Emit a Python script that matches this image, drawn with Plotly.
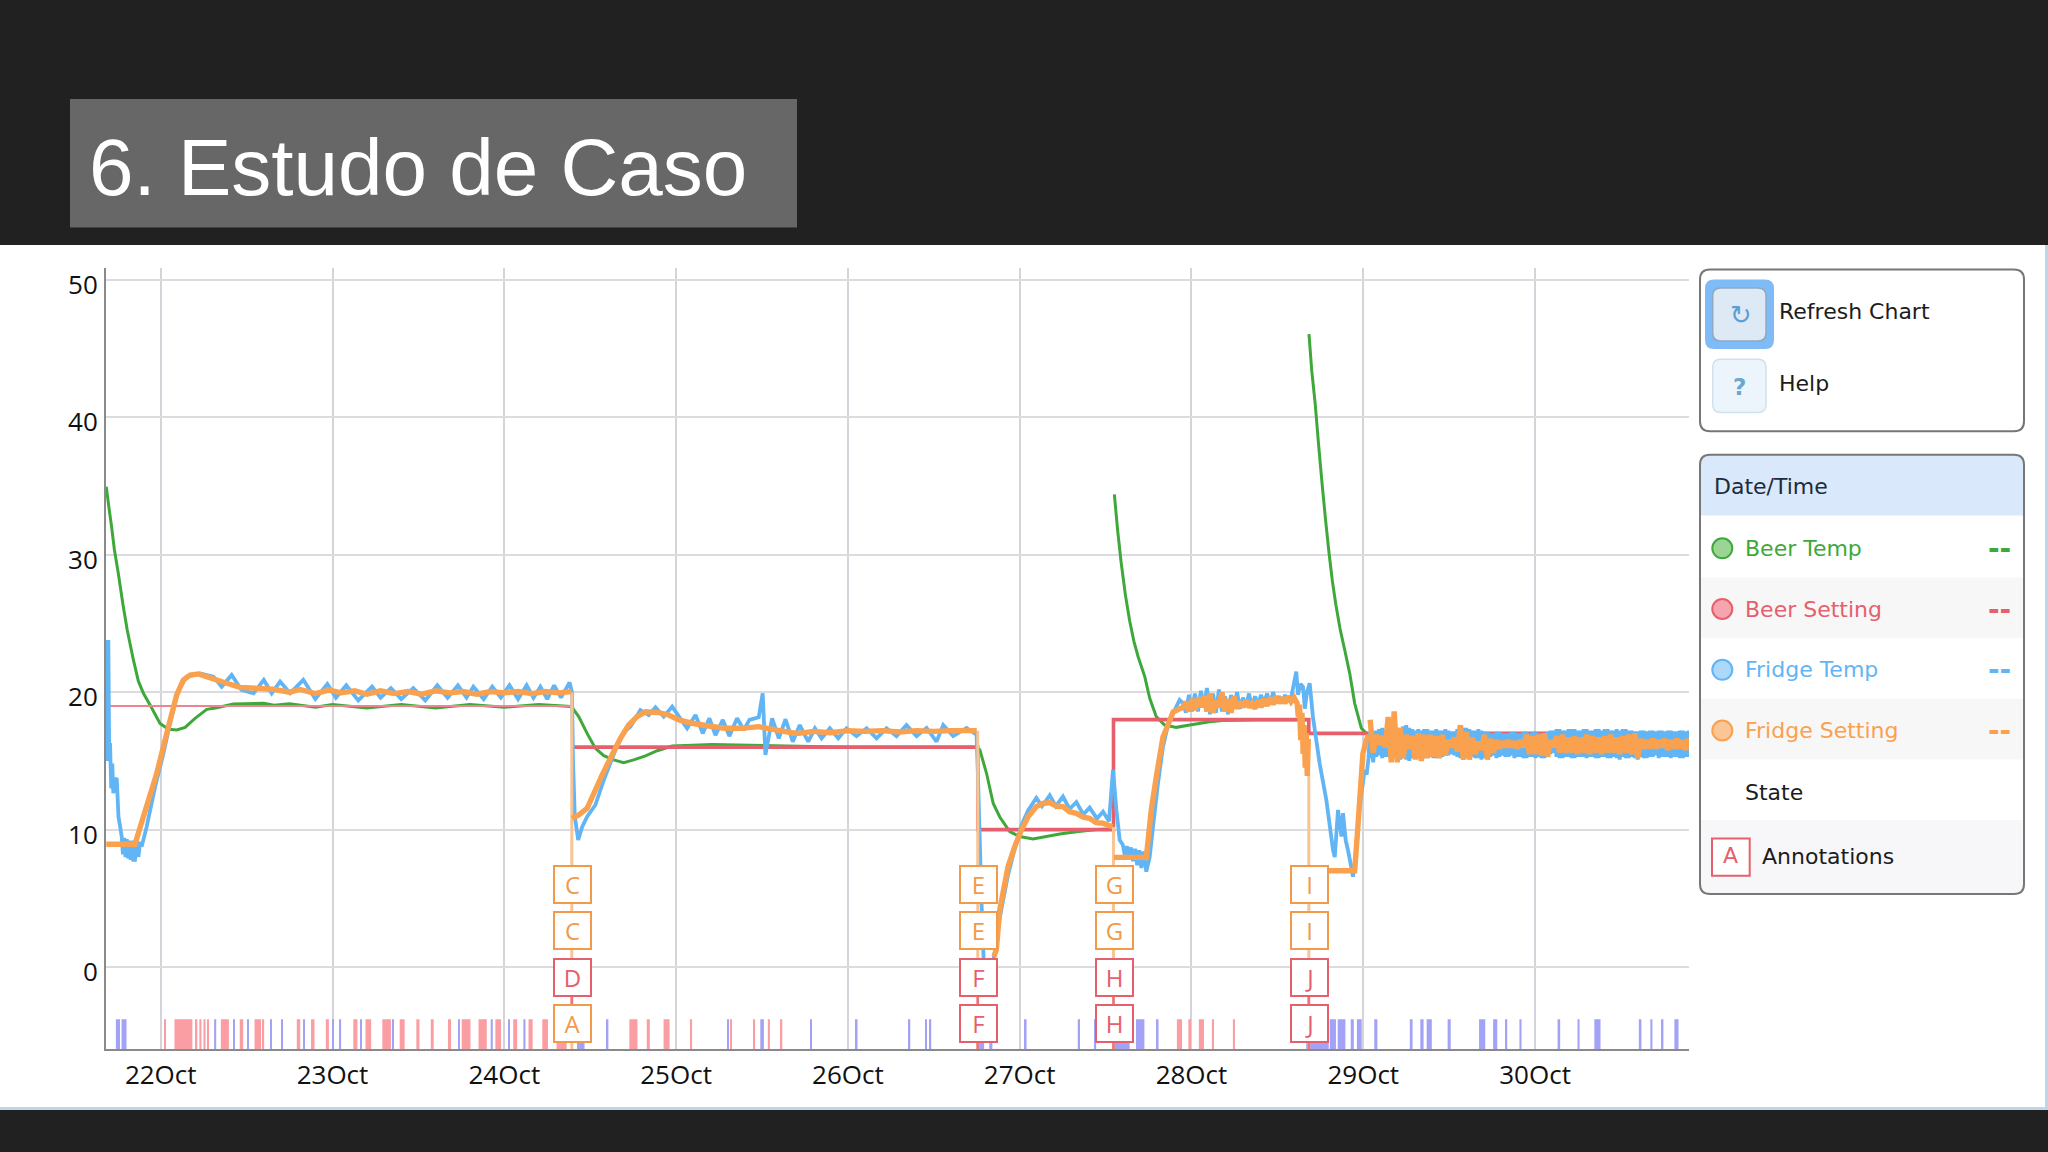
import pandas as pd
import plotly.graph_objects as go

# ---------- data (x in day-of-October, y in degrees) ----------
tick_days = [22, 23, 24, 25, 26, 27, 28, 29, 30]
tick_labels = ["22Oct", "23Oct", "24Oct", "25Oct", "26Oct", "27Oct", "28Oct", "29Oct", "30Oct"]
y_ticks = [0, 10, 20, 30, 40, 50]

beer_temp_days = [21.683, 21.70, 21.714, 21.73, 21.753, 21.78, 21.805, 21.84, 21.87, 21.90, 21.938, 21.996, 22.045, 22.093, 22.142, 22.2, 22.268, 22.326, 22.423,
                  22.6, 22.66, 22.75, 22.9, 23.0, 23.2, 23.4, 23.6, 23.8, 24.0, 24.2, 24.39, None,
                  24.391, 24.433, 24.482, 24.53, 24.579, 24.637, 24.695, 24.753, 24.822, 24.89, 24.977, 25.21, 26.0, 26.75,
                  26.768, 26.807, 26.846, 26.885, 26.942, 27.0, 27.078, 27.155, 27.233, 27.33, 27.45, 27.54, None,
                  27.551, 27.57, 27.59, 27.615, 27.64, 27.665, 27.689, 27.728, 27.757, 27.795, 27.844, 27.912, 27.99, 28.106, 28.18, 28.4, 28.675, None,
                  28.684, 28.70, 28.72, 28.74, 28.76, 28.78, 28.8, 28.82, 28.84, 28.865, 28.892, 28.921, 28.95, 28.989, 29.018, 29.06, 29.5, 30.0, 30.89]
beer_temp_vals = [34.96, 33.3, 32.05, 30.4, 28.65, 26.4, 24.53, 22.4, 20.8, 19.9, 19.07, 17.73, 17.3, 17.25, 17.44, 18.1, 18.75, 18.87, 19.14,
                  19.2, 19.05, 19.15, 18.9, 19.1, 18.85, 19.1, 18.85, 19.1, 18.9, 19.1, 18.95, None,
                  18.95, 18.22, 17.0, 15.92, 15.38, 15.07, 14.87, 15.07, 15.36, 15.74, 16.08, 16.2, 16.0, 16.0,
                  15.8, 14.1, 11.9, 10.9, 9.85, 9.49, 9.32, 9.49, 9.68, 9.85, 10.0, 10.05, None,
                  34.4, 31.8, 29.5, 27.1, 25.2, 23.7, 22.6, 21.13, 19.56, 18.22, 17.61, 17.44, 17.61, 17.85, 17.93, 18.0, 18.0, None,
                  46.05, 43.4, 41.0, 38.0, 35.2, 32.6, 30.2, 28.1, 26.4, 24.6, 23.07, 21.37, 19.19, 17.37, 17.0, 16.9, 17.0, 17.0, 17.0]

beer_setting_early_days = [21.683, 24.393]
beer_setting_early_vals = [19, 19]
beer_setting_days = [24.393, 26.756, 26.756, 27.546, 27.546, 28.683, 28.683, 30.89]
beer_setting_vals = [16, 16, 10, 10, 18, 18, 17, 17]

fridge_temp_days = [21.684, 21.69, 21.695, 21.7, 21.705, 21.712, 21.718, 21.724, 21.734, 21.744, 21.754, 21.764, 21.773, 21.78, 21.788,
                    21.795, 21.803, 21.81, 21.818, 21.825, 21.833, 21.84, 21.85, 21.86, 21.87, 21.88, 21.889, 21.918, 21.967, 22.016, 22.054,
                    22.103, 22.151, 22.229, 22.307, 22.355, 22.413, 22.47, 22.54, 22.6, 22.646, 22.695, 22.753, 22.83, 22.9, 22.97, 23.02,
                    23.08, 23.15, 23.23, 23.28, 23.34, 23.4, 23.47, 23.54, 23.61, 23.67, 23.73, 23.78, 23.82, 23.88, 23.93, 23.98,
                    24.03, 24.08, 24.13, 24.17, 24.21, 24.25, 24.29, 24.33, 24.38, 24.394, 24.4, 24.41, 24.43, 24.453, 24.482, 24.53,
                    24.579, 24.647, 24.695, 24.734, 24.792, 24.841, 24.88, 24.928, 24.977, 25.064, 25.113, 25.155, 25.194, 25.229,
                    25.272, 25.31, 25.355, 25.394, 25.427, 25.481, 25.504, 25.52, 25.559, 25.598, 25.637, 25.679, 25.72, 25.769,
                    25.808, 25.847, 25.895, 25.944, 25.992, 26.05, 26.109, 26.167, 26.225, 26.283, 26.341, 26.4, 26.458, 26.516,
                    26.555, 26.613, 26.691, 26.749, 26.757, 26.777, 26.793, 26.82, 26.848, 26.884, 26.932, 26.971, 27.01, 27.049,
                    27.097, 27.13, 27.175, 27.21, 27.252, 27.29, 27.33, 27.37, 27.407, 27.45, 27.485, 27.52, 27.543, 27.563, 27.582,
                    27.6, 27.612, 27.624, 27.636, 27.648, 27.66, 27.672, 27.684, 27.696, 27.708, 27.72, 27.737, 27.757, 27.776,
                    27.805, 27.834, 27.863, 27.893, 27.931, 27.95, 27.9675, 27.985, 28.0025, 28.02, 28.0375, 28.055, 28.0725, 28.09,
                    28.1075, 28.125, 28.1425, 28.16, 28.1775, 28.195, 28.2125, 28.23, 28.2475, 28.265, 28.2825, 28.3, 28.3175, 28.335,
                    28.3525, 28.37, 28.3875, 28.405, 28.4225, 28.44, 28.4575, 28.475, 28.4925, 28.51, 28.5275, 28.545, 28.5625, 28.58,
                    28.61, 28.62, 28.635, 28.649, 28.66, 28.672, 28.688, 28.707, 28.746, 28.785, 28.824, 28.834, 28.853, 28.873, 28.882,
                    28.898, 28.911, 28.925, 28.94, 28.96, 28.979, 29.008, 29.02, 29.03]
fridge_temp_vals = [23.8, 15.0, 23.8, 15.5, 16.3, 13.0, 14.8, 12.65, 13.6, 13.74, 10.94, 10.2, 9.49, 8.2, 9.4,
                    8.0, 9.3, 7.9, 9.2, 7.8, 9.2, 7.8, 7.8, 9.2, 8.0, 9.1, 8.76, 10.2, 13.1, 15.55, 17.73,
                    20.16, 21.13, 21.37, 21.13, 20.4, 21.25, 20.16, 19.92, 20.89, 19.92, 20.77, 19.92, 20.9, 19.5, 20.6, 19.6,
                    20.5, 19.4, 20.4, 19.6, 20.3, 19.5, 20.3, 19.4, 20.5, 19.6, 20.5, 19.6, 20.4, 19.5, 20.4, 19.6,
                    20.5, 19.5, 20.5, 19.6, 20.4, 19.5, 20.5, 19.6, 20.7, 20.0, 15.0, 11.0, 9.24, 10.2, 10.94, 11.79,
                    13.6, 15.79, 17.1, 17.49, 18.7, 18.34, 18.9, 18.22, 18.95, 17.37, 18.34, 17.0, 18.1, 16.88,
                    17.98, 16.8, 18.1, 17.25, 17.98, 18.17, 19.92, 15.43, 18.1, 16.64, 18.03, 16.4, 17.61, 16.4,
                    17.37, 16.64, 17.37, 16.64, 17.37, 16.8, 17.37, 16.64, 17.37, 16.8, 17.6, 16.8, 17.4, 16.4,
                    17.61, 16.8, 17.4, 16.9, 14.0, 5.0, -0.5, -1.0, 0.5, 3.6, 6.7, 8.6, 10.3, 11.4,
                    12.3, 11.7, 12.5, 11.7, 12.4, 11.5, 12.0, 11.1, 11.6, 10.8, 11.3, 10.6, 14.34, 11.43, 9.24,
                    8.9, 8.1, 8.8, 8.0, 8.7, 7.7, 8.6, 7.4, 8.5, 7.2, 8.4, 6.94, 8.03, 10.2,
                    13.37, 16.03, 17.61, 18.46, 19.43, 19.2, 18.5, 19.8, 18.6, 19.9, 18.6, 20.1, 18.9, 20.3,
                    18.4, 19.9, 18.5, 20.2, 18.6, 19.7, 18.4, 19.8, 18.9, 20.0, 18.8, 19.6, 19.0, 19.9,
                    18.9, 19.7, 19.1, 19.8, 19.2, 19.9, 19.1, 20.0, 19.3, 19.7, 19.2, 19.8, 19.3, 19.6,
                    21.5, 19.8, 20.6, 20.4, 18.8, 20.0, 20.65, 18.2, 14.82, 12.15, 8.5, 8.0, 11.43, 9.49, 11.2,
                    9.2, 8.5, 7.6, 6.57, 8.5, 11.67, 14.34, 14.0, 15.2]

fridge_setting_days = [21.683, 21.85, 21.899, 21.977, 22.035, 22.093, 22.132, 22.171, 22.219, 22.268, 22.326, 22.384, 22.462, 22.559, 22.656,
                       22.75, 22.811, 22.9, 22.98, 23.05, 23.13, 23.2, 23.28, 23.36, 23.44, 23.52, 23.6, 23.68, 23.76, 23.84, 23.92, 24.0, 24.08,
                       24.16, 24.24, 24.32, 24.39, None,
                       24.394, 24.433, 24.482, 24.53, 24.569, 24.627, 24.676, 24.724, 24.773, 24.822, 24.899, 24.957, 25.016, 25.093, 25.19,
                       25.287, 25.384, 25.481, 25.578, 25.675, 25.714, 25.8, 25.9, 26.0, 26.1, 26.2, 26.3, 26.4, 26.5, 26.6, 26.7, 26.75, None,
                       26.85, 26.864, 26.884, 26.932, 26.971, 27.01, 27.049, 27.097, 27.135, 27.175, 27.215, 27.252, 27.29, 27.33, 27.37, 27.407,
                       27.445, 27.485, 27.54, None,
                       27.548, 27.737, 27.766, 27.795, 27.834, 27.863, 27.893, 27.95, 27.9675, 27.985, 28.0025, 28.02, 28.0375, 28.055, 28.0725,
                       28.09, 28.1075, 28.125, 28.1425, 28.16, 28.1775, 28.195, 28.2125, 28.23, 28.2475, 28.265, 28.2825, 28.3, 28.3175, 28.335,
                       28.3525, 28.37, 28.3875, 28.405, 28.4225, 28.44, 28.4575, 28.475, 28.4925, 28.51, 28.5275, 28.545, 28.5625, 28.58, 28.5975,
                       28.615, 28.622, 28.629, 28.636, 28.643, 28.65, 28.656, 28.662, 28.668, 28.674, 28.68, None,
                       28.684, 28.95, 28.97, 28.998, 29.018, 29.03]
fridge_setting_vals = [8.93, 8.93, 10.94, 14.1, 17.0, 19.8, 20.89, 21.25, 21.33, 21.13, 20.89, 20.65, 20.35, 20.28, 20.21,
                       20.0, 20.2, 19.9, 20.15, 19.95, 20.1, 19.85, 20.1, 19.9, 20.05, 19.85, 20.1, 19.95, 20.05, 19.85, 20.05, 19.95, 20.05,
                       19.9, 20.05, 19.95, 20.05, None,
                       10.82, 11.06, 11.55, 12.88, 13.97, 15.43, 16.64, 17.61, 18.22, 18.58, 18.51, 18.34, 17.98, 17.74, 17.54,
                       17.37, 17.37, 17.49, 17.25, 17.05, 17.0, 17.15, 17.05, 17.2, 17.15, 17.2, 17.1, 17.2, 17.15, 17.2, 17.2, 17.2, None,
                       0.75, 1.24, 4.15, 7.3, 8.76, 9.97, 10.94, 11.67, 11.9, 11.96, 11.7, 11.67, 11.3, 11.18, 10.9, 10.82,
                       10.5, 10.46, 10.2, None,
                       7.98, 7.98, 11.43, 13.83, 16.74, 17.61, 18.56, 18.9, 19.3, 18.6, 19.5, 18.7, 19.6, 18.9, 19.7,
                       18.6, 19.9, 18.5, 19.4, 18.9, 20.0, 18.6, 19.5, 18.5, 19.7, 18.8, 19.3, 18.9, 19.4, 18.9,
                       19.2, 18.8, 19.4, 18.9, 19.5, 19.0, 19.6, 19.1, 19.7, 19.2, 19.6, 19.2, 19.7, 19.3, 19.6,
                       19.2, 18.2, 19.1, 16.5, 18.5, 15.5, 17.6, 14.5, 17.0, 13.9, 16.6, None,
                       7.0, 7.0, 10.46, 15.55, 16.52, 16.9]

# readings every 0.0175 day after 29.04 (alternating upper and lower edge of the trace)
noise_start_day = 29.04
noise_step = 0.0175
fridge_temp_noise = [17.1, 14.9, 17.2, 15.4, 17.4, 15.3, 17.4, 15.2, 17.5, 15.3, 17.4, 15.2, 17.6, 15.0, 17.3, 15.3, 17.3, 15.4,
                     17.3, 15.3, 17.2, 15.2, 17.3, 15.3, 17.2, 15.4, 17.2, 15.5, 17.1, 15.3, 17.4, 15.1, 17.4, 15.3, 17.2, 15.2,
                     17.3, 15.1, 17.1, 15.3, 17.0, 15.4, 17.1, 15.3, 17.0, 15.3, 17.0, 15.4, 17.1, 15.3, 17.0, 15.2, 17.1, 15.3,
                     17.1, 15.2, 17.0, 15.2, 17.0, 15.3, 17.2, 15.6, 17.3, 15.2, 17.2, 15.3, 17.3, 15.2, 17.3, 15.3, 17.2, 15.3,
                     17.3, 15.3, 17.2, 15.2, 17.3, 15.3, 17.3, 15.2, 17.2, 15.3, 17.3, 15.1, 17.3, 15.2, 17.2, 15.3, 17.1, 15.1,
                     17.2, 15.2, 17.1, 15.3, 17.2, 15.4, 17.2, 15.3, 17.1, 15.3, 17.2, 15.3, 17.1, 15.2, 17.2, 15.3, 17.2, 15.3]
# second sweep over the same times, in opposite phase
fridge_temp_noise_b = [15.2, 17.0, 15.3, 17.3, 15.2, 17.3, 15.3, 17.5, 15.4, 17.3, 15.1, 17.5, 15.1, 17.4, 15.2, 17.2, 15.4, 17.2,
                       15.2, 17.3, 15.3, 17.2, 15.2, 17.2, 15.3, 17.3, 15.4, 17.1, 15.4, 17.3, 15.2, 17.4, 15.2, 17.3, 15.3, 17.2,
                       15.2, 17.2, 15.2, 17.1, 15.3, 17.0, 15.2, 17.1, 15.4, 17.0, 15.3, 17.1, 15.2, 17.0, 15.3, 17.1, 15.2, 17.0,
                       15.3, 17.1, 15.3, 17.0, 15.2, 17.1, 15.5, 17.2, 15.3, 17.3, 15.2, 17.2, 15.3, 17.3, 15.2, 17.2, 15.3, 17.3,
                       15.2, 17.2, 15.3, 17.3, 15.2, 17.2, 15.3, 17.3, 15.2, 17.2, 15.2, 17.2, 15.3, 17.3, 15.2, 17.2, 15.2, 17.1,
                       15.3, 17.2, 15.2, 17.2, 15.3, 17.1, 15.2, 17.2, 15.3, 17.2, 15.2, 17.1, 15.3, 17.2, 15.2, 17.1, 15.3, 17.2]
fridge_setting_noise = [18.0, 15.6, 16.9, 16.2, 16.8, 16.0, 18.2, 14.9, 18.6, 14.9, 17.4, 15.2, 16.9, 15.9, 16.8, 15.1, 17.0, 15.0,
                        16.9, 15.2, 16.9, 15.3, 16.8, 15.2, 16.9, 15.4, 16.5, 16.0, 16.7, 15.7, 17.6, 15.1, 17.1, 15.1, 16.7, 15.5,
                        16.4, 15.8, 16.9, 15.1, 16.6, 15.6, 16.5, 15.9, 16.4, 16.0, 16.5, 16.0, 16.4, 15.9, 16.5, 16.0, 16.9, 15.5,
                        16.8, 15.5, 16.9, 15.4, 17.0, 15.3, 16.5, 16.0, 16.8, 15.6, 16.9, 15.6, 16.7, 15.6, 16.8, 15.5, 16.7, 15.6,
                        16.9, 15.5, 16.8, 15.6, 16.7, 15.5, 16.8, 15.6, 16.9, 15.6, 16.7, 15.5, 16.8, 15.6, 16.9, 15.5, 17.0, 15.2,
                        16.6, 15.9, 16.5, 15.9, 16.6, 15.9, 16.5, 16.0, 16.6, 15.8, 16.5, 15.9, 16.6, 15.9, 16.5, 15.8, 16.6, 15.9]

state_heat = [(22.021, 22.03), (22.08, 22.184), (22.202, 22.213), (22.225, 22.237), (22.249, 22.261), (22.273, 22.279), (22.35, 22.397),
              (22.46, 22.48), (22.546, 22.584), (22.593, 22.602), (22.792, 22.812), (22.875, 22.895), (22.961, 22.979), (23.121, 23.145),
              (23.192, 23.225), (23.29, 23.34), (23.391, 23.42), (23.488, 23.506), (23.572, 23.589), (23.672, 23.69), (23.752, 23.803),
              (23.85, 23.898), (23.948, 23.981), (24.052, 24.075), (24.141, 24.165), (24.221, 24.254), (24.304, 24.363), (24.728, 24.775),
              (24.829, 24.847), (24.927, 24.962), (25.084, 25.093), (25.315, 25.324), (25.451, 25.46), (25.534, 25.546), (25.609, 25.618),
              (26.75, 26.759), (27.915, 27.945), (27.982, 27.997), (28.043, 28.073), (28.119, 28.131), (28.241, 28.253)]
state_cool = [(21.739, 21.763), (21.772, 21.801), (22.311, 22.323), (22.421, 22.43), (22.504, 22.513), (22.64, 22.646), (22.703, 22.712),
              (22.833, 22.839), (22.999, 23.008), (23.038, 23.05), (23.162, 23.168), (23.349, 23.358), (23.732, 23.741), (23.921, 23.933),
              (24.022, 24.031), (24.111, 24.123), (24.423, 24.467), (24.597, 24.606), (25.297, 25.303), (25.49, 25.511), (25.781, 25.79),
              (26.047, 26.056), (26.354, 26.363), (26.451, 26.46), (26.476, 26.485), (26.756, 26.793), (26.823, 26.841), (27.03, 27.04),
              (27.338, 27.351), (27.436, 27.445), (27.555, 27.64), (27.677, 27.726), (27.799, 27.808), (28.668, 28.799), (28.805, 28.841),
              (28.851, 28.896), (28.927, 28.945), (28.963, 28.991), (29.064, 29.082), (29.271, 29.287), (29.332, 29.351), (29.369, 29.399),
              (29.491, 29.509), (29.674, 29.71), (29.756, 29.78), (29.829, 29.838), (29.909, 29.921), (30.131, 30.146), (30.247, 30.259),
              (30.345, 30.381), (30.604, 30.619), (30.671, 30.683), (30.738, 30.747), (30.811, 30.835)]
state_floor = -6
state_top = -3.8

flag_days = [24.393, 26.756, 27.546, 28.683]
flag_tops = [20.0, 17.2, 10.2, 14.0]
flag_letters = [["C", "C", "D", "A"], ["E", "E", "F", "F"], ["G", "G", "H", "H"], ["I", "I", "J", "J"]]

legend_names = ["Beer Temp", "Beer Setting", "Fridge Temp", "Fridge Setting"]

# ---------- styles ----------
GREEN, RED, BLUE, ORANGE = "#3ea83a", "#e5606c", "#62b5f5", "#f9a14f"
PALE_ORANGE = "#f9c493"
W, H = 2048, 1152
PLOT_L, PLOT_R, PLOT_T, PLOT_B = 106, 1689, 268, 1049.3


def dates(days):
    base = pd.Timestamp("2015-10-01")
    return [None if d is None else (base + pd.to_timedelta(d - 1, unit="D")).isoformat() for d in days]


def px(x):
    return x / W


def py(y):
    return 1 - y / H


def rect(x0, y0, x1, y1, fill, layer="above", line=None, lw=0):
    return dict(type="rect", xref="paper", yref="paper", x0=px(x0), x1=px(x1), y0=py(y1), y1=py(y0),
                fillcolor=fill, layer=layer, line=dict(color=line or fill, width=lw))


def rounded(x0, y0, x1, y1, r, fill="rgba(0,0,0,0)", line="rgba(0,0,0,0)", lw=0, top=True, bottom=True):
    a, b, c, d = px(x0), px(x1), py(y0), py(y1)
    rx, ry = r / W, r / H
    p = f"M {a + rx},{c} L {b - rx},{c} Q {b},{c} {b},{c - ry} " if top else f"M {a},{c} L {b},{c} "
    p += f"L {b},{d + ry} Q {b},{d} {b - rx},{d} L {a + rx},{d} Q {a},{d} {a},{d + ry} " if bottom else f"L {b},{d} L {a},{d} "
    p += f"L {a},{c - ry} Q {a},{c} {a + rx},{c} Z" if top else "Z"
    return dict(type="path", xref="paper", yref="paper", path=p, fillcolor=fill, layer="above",
                line=dict(color=line, width=lw))


def label(x, y, s, size, color, family="DejaVu Sans", anchor="left"):
    return dict(xref="paper", yref="paper", x=px(x), y=py(y), text=s, showarrow=False, xanchor=anchor, yanchor="middle",
                font=dict(size=size, color=color, family=family), borderpad=0)


def zig_days(values):
    return [noise_start_day + noise_step * i for i in range(len(values))]


def state_trace(spans, color):
    return go.Bar(x=dates([(a + b) / 2 for a, b in spans]), y=[state_top - state_floor] * len(spans), base=state_floor,
                  width=[(b - a) * 86400000 for a, b in spans], marker=dict(color=color, line=dict(width=0)),
                  showlegend=False, hoverinfo="skip")


def line_trace(days, vals, color, width, name=None):
    return go.Scatter(x=dates(days), y=vals, mode="lines", name=name,
                      line=dict(color=color, width=width, simplify=False), showlegend=False, connectgaps=False)


fig = go.Figure()
fig.add_trace(state_trace(state_heat, "#fb9ea4"))
fig.add_trace(state_trace(state_cool, "#a2a2f6"))
fig.add_trace(line_trace(beer_temp_days, beer_temp_vals, GREEN, 3, "Beer Temp"))
fig.add_trace(line_trace(beer_setting_early_days, beer_setting_early_vals, "#ee8492", 2, "Beer Setting"))
fig.add_trace(line_trace(beer_setting_days, beer_setting_vals, RED, 3.6, "Beer Setting"))
fig.add_trace(line_trace(fridge_temp_days + zig_days(fridge_temp_noise),
                         fridge_temp_vals + fridge_temp_noise, BLUE, 3.8, "Fridge Temp"))
fig.add_trace(line_trace(zig_days(fridge_temp_noise_b), fridge_temp_noise_b, BLUE, 3.8, "Fridge Temp"))

stem_days, stem_vals, low_days, low_vals = [], [], [], []
for d, top in zip(flag_days, flag_tops):
    stem_days += [d, d, None]
    stem_vals += [state_floor, top, None]
    low_days += [d, d, None]
    low_vals += [-3 if d == flag_days[0] else state_floor, 0, None]
fig.add_trace(line_trace(stem_days, stem_vals, PALE_ORANGE, 3, "Annotations"))
fig.add_trace(line_trace(low_days, low_vals, "#ea7480", 2.5, "Annotations"))
fig.add_trace(line_trace(fridge_setting_days + [None] + zig_days(fridge_setting_noise),
                         fridge_setting_vals + [None] + fridge_setting_noise, ORANGE, 5.4, "Fridge Setting"))

# ---------- page furniture ----------
shapes = [
    rect(0, 245, W, 1110, "#ffffff", "below"),
    rect(2045, 245, W, 1110, "#bcd8e8", "below"),
    rect(0, 1107, W, 1110, "#bcd8e8", "below"),
    rect(70, 99, 797, 227.5, "#676767", "below"),
    rounded(1700, 269.5, 2024, 431.3, 10, "#ffffff", "#777777", 2),
    rounded(1705, 279.5, 1774, 349, 9, "#7fbbf6"),
    rounded(1712.7, 288, 1766, 341, 8, "#dde9f4", "#8ea9c2", 1.5),
    rounded(1712.7, 359.3, 1766, 412.6, 8, "#edf5fc", "#d2e0ee", 1.5),
    rounded(1700, 454.7, 2024, 894, 10, "#ffffff"),
    rounded(1700, 454.7, 2024, 515.4, 10, "#d9e9fb", bottom=False),
    rect(1701, 577.4, 2023, 638, "#f7f7f7"),
    rect(1701, 698.8, 2023, 759.5, "#f7f7f7"),
    rounded(1701, 820, 2023, 893, 9, "#f7f7f9", top=False),
    rounded(1700, 454.7, 2024, 894, 10, "rgba(0,0,0,0)", "#777777", 2),
    rect(1712, 838.5, 1749.7, 875.8, "#ffffff", line="#e5606c", lw=2),
]

annotations = [
    label(87.5, 167, "6. Estudo de Caso", 80, "#ffffff", "Liberation Sans"),
    label(1740.7, 315, "↻", 26, "#5c9fd6", "DejaVu Sans", "center"),
    label(1739, 387, "<b>?</b>", 23, "#6aa8d0", "DejaVu Sans", "center"),
    label(1778, 312, "Refresh Chart", 22, "#1c1c1c"),
    label(1778, 383.6, "Help", 22, "#1c1c1c"),
    label(1713, 486.8, "Date/Time", 22, "#1d2b3a"),
    label(1744, 792, "State", 22, "#1c1c1c"),
    label(1730.8, 855, "A", 22, "#e5606c", "DejaVu Sans", "center"),
    label(1760.7, 856.2, "Annotations", 22, "#1c1c1c"),
]

row_y = [548.3, 609, 669.8, 730.5]
for name, color, fill, y in zip(legend_names, [GREEN, RED, BLUE, ORANGE], ["#9ad596", "#f6a5ae", "#acd8fa", "#fbc596"], row_y):
    shapes.append(dict(type="circle", xref="paper", yref="paper", x0=px(1712.3), x1=px(1732.3), y0=py(y + 10), y1=py(y - 10),
                       fillcolor=fill, line=dict(color=color, width=2), layer="above"))
    annotations.append(label(1744, y, name, 22, color))
    annotations.append(label(2012, y, "<b>--</b>", 28, color, anchor="right"))

box_y = [884.3, 930.7, 977, 1023.3]
for d, letters in zip(flag_days, flag_letters):
    for letter, y in zip(letters, box_y):
        color = "#e5606c" if letter in "DFHJ" else "#f29a4a"
        annotations.append(dict(xref="x", yref="paper", x=dates([d + 0.006])[0], y=py(y), text=letter, showarrow=False,
                                xanchor="center", yanchor="middle", width=35, height=35, bgcolor="#ffffff",
                                bordercolor=color, borderwidth=2, borderpad=0, valign="middle", align="center",
                                font=dict(size=24, color=color, family="Open Sans")))

fig.update_layout(
    width=W, height=H, margin=dict(l=0, r=0, t=0, b=0, autoexpand=False), paper_bgcolor="#212121", plot_bgcolor="#ffffff",
    barmode="overlay", showlegend=False, shapes=shapes, annotations=annotations,
    xaxis=dict(domain=[px(PLOT_L), px(PLOT_R)], type="date",
               range=dates([21.6815, 30.896]), tickvals=dates(tick_days), ticktext=tick_labels, tickangle=0,
               showgrid=True, gridcolor="#d4d4da", gridwidth=2, zeroline=False,
               showline=True, linecolor="#8a8a8a", linewidth=2, ticks="outside", ticklen=1, tickcolor="rgba(0,0,0,0)",
               tickfont=dict(family="Open Sans", size=26, color="#111111")),
    yaxis=dict(domain=[py(PLOT_B), py(PLOT_T)], range=[-5.99, 50.87], tickvals=y_ticks,
               showgrid=True, gridcolor="#dcdcdf", gridwidth=2, zeroline=False,
               showline=True, linecolor="#8a8a8a", linewidth=2, ticks="outside", ticklen=1, tickcolor="rgba(0,0,0,0)",
               ticklabelshift=5, tickfont=dict(family="Open Sans", size=26, color="#111111")),
)

fig.write_html("out.html", config=dict(displayModeBar=False),
               post_script="document.body.style.margin='0';document.body.style.overflow='hidden';document.body.style.background='#212121';")
